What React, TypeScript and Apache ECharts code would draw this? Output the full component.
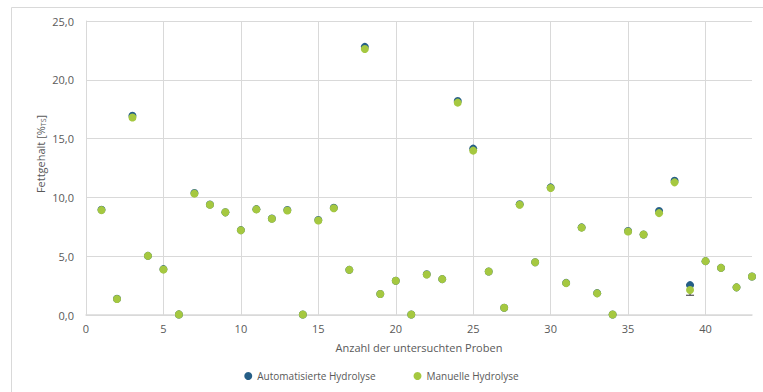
import React, { useEffect, useRef } from "react";
import * as echarts from "echarts";

const sampleNumbers = [
  1, 2, 3, 4, 5, 6, 7, 8, 9, 10, 11, 12, 13, 14, 15, 16, 17, 18, 19, 20, 21, 22,
  23, 24, 25, 26, 27, 28, 29, 30, 31, 32, 33, 34, 35, 36, 37, 38, 39, 40, 41, 42, 43,
];

const automatisiert = [
  8.95, 1.38, 16.95, 5.03, 3.9, 0.05, 10.38, 9.4, 8.73, 7.22, 9.0, 8.2, 8.93, 0.04,
  8.08, 9.12, 3.84, 22.8, 1.78, 2.91, 0.04, 3.46, 3.05, 18.2, 14.15, 3.7, 0.62, 9.42,
  4.49, 10.85, 2.73, 7.45, 1.86, 0.04, 7.14, 6.84, 8.84, 11.42, 2.54, 4.58, 4.01, 2.35,
  3.28,
];

const manuell = [
  8.92, 1.36, 16.8, 5.03, 3.87, 0.05, 10.32, 9.38, 8.73, 7.2, 8.98, 8.19, 8.88, 0.04,
  8.04, 9.08, 3.84, 22.62, 1.78, 2.91, 0.04, 3.45, 3.05, 18.06, 13.98, 3.7, 0.62, 9.38,
  4.49, 10.8, 2.71, 7.43, 1.84, 0.04, 7.1, 6.84, 8.66, 11.28, 2.12, 4.58, 4.01, 2.35,
  3.28,
];

// error bar: [x, low, high]
const errorBars = [[39, 1.68, 2.56]];

const yTicks = [0, 5, 10, 15, 20, 25];
const xTicks = [0, 5, 10, 15, 20, 25, 30, 35, 40];

const FONT = "'Open Sans', 'Noto Sans', sans-serif";
const LABEL_COLOR = "#595959";
const GRID_COLOR = "#D9D9D9";
const AUTO_COLOR = "#255E87";
const MAN_COLOR = "#A5C840";

export default function App() {
  const ref = useRef<HTMLDivElement>(null);

  useEffect(() => {
    document.body.style.margin = "0";
    if (!ref.current) return;
    const chart = echarts.init(ref.current, null, { renderer: "svg" });

    const autoData = sampleNumbers.map((x, i) => [x, automatisiert[i]]);
    const manData = sampleNumbers.map((x, i) => [x, manuell[i]]);

    chart.setOption({
      animation: false,
      backgroundColor: "#ffffff",
      textStyle: { fontFamily: FONT },
      graphic: [
        {
          type: "rect",
          shape: { x: 11.5, y: 7.5, width: 770, height: 400 },
          style: { fill: "none", stroke: GRID_COLOR, lineWidth: 1 },
          silent: true,
          z: -10,
        },
        {
          type: "text",
          x: 40,
          y: 154,
          rotation: Math.PI / 2,
          style: {
            text: "Fettgehalt [%{s|TS}]",
            fontFamily: FONT,
            fontSize: 11,
            fill: LABEL_COLOR,
            align: "center",
            verticalAlign: "middle",
            rich: {
              s: {
                fontSize: 7,
                fontFamily: FONT,
                fill: LABEL_COLOR,
                verticalAlign: "bottom",
                padding: [6, 0, 0, 0],
              },
            },
          },
        },
      ],
      grid: { left: 86, right: 11, top: 21, bottom: 77, containLabel: false },
      legend: {
        bottom: 6,
        left: "center",
        icon: "circle",
        itemWidth: 8,
        itemHeight: 8,
        itemGap: 38,
        textStyle: { color: LABEL_COLOR, fontSize: 10, fontFamily: FONT },
        data: ["Automatisierte Hydrolyse", "Manuelle Hydrolyse"],
      },
      xAxis: {
        type: "value",
        min: 0,
        max: 43,
        interval: 5,
        name: "Anzahl der untersuchten Proben",
        nameLocation: "middle",
        nameGap: 27,
        nameTextStyle: { color: LABEL_COLOR, fontSize: 11, fontFamily: FONT },
        axisLine: { show: true, lineStyle: { color: GRID_COLOR, width: 1.5 } },
        axisTick: { show: false },
        axisLabel: {
          color: LABEL_COLOR,
          fontSize: 11,
          margin: 8,
          showMaxLabel: false,
          formatter: (v: number) => (xTicks.includes(v) ? String(v) : ""),
        },
        splitLine: {
          show: true,
          showMinLine: false,
          showMaxLine: false,
          lineStyle: { color: GRID_COLOR, width: 1 },
        },
      },
      yAxis: {
        type: "value",
        min: 0,
        max: 25,
        interval: 5,
        axisLine: { show: true, lineStyle: { color: GRID_COLOR, width: 1 } },
        axisTick: { show: false },
        axisLabel: {
          color: LABEL_COLOR,
          fontSize: 11,
          margin: 12,
          formatter: (v: number) =>
            yTicks.includes(v) ? v.toFixed(1).replace(".", ",") : "",
        },
        splitLine: { show: true, lineStyle: { color: GRID_COLOR, width: 1 } },
      },
      series: [
        {
          name: "Fehlerbalken",
          type: "custom",
          data: errorBars,
          z: 1,
          silent: true,
          renderItem: (params: any, api: any) => {
            const x = api.value(0);
            const low = api.coord([x, api.value(1)]);
            const high = api.coord([x, api.value(2)]);
            const cap = 4;
            const style = { stroke: "#333333", lineWidth: 1 };
            return {
              type: "group",
              children: [
                { type: "line", shape: { x1: low[0], y1: low[1], x2: high[0], y2: high[1] }, style },
                { type: "line", shape: { x1: low[0] - cap, y1: low[1], x2: low[0] + cap, y2: low[1] }, style },
                { type: "line", shape: { x1: high[0] - cap, y1: high[1], x2: high[0] + cap, y2: high[1] }, style },
              ],
            };
          },
        },
        {
          name: "Automatisierte Hydrolyse",
          type: "scatter",
          data: autoData,
          symbol: "circle",
          symbolSize: 8,
          itemStyle: { color: AUTO_COLOR, opacity: 1 },
          z: 2,
        },
        {
          name: "Manuelle Hydrolyse",
          type: "scatter",
          data: manData,
          symbol: "circle",
          symbolSize: 8,
          itemStyle: { color: MAN_COLOR, opacity: 1 },
          z: 3,
        },
      ],
    });

    return () => chart.dispose();
  }, []);

  return <div ref={ref} style={{ width: 763, height: 392 }} />;
}
